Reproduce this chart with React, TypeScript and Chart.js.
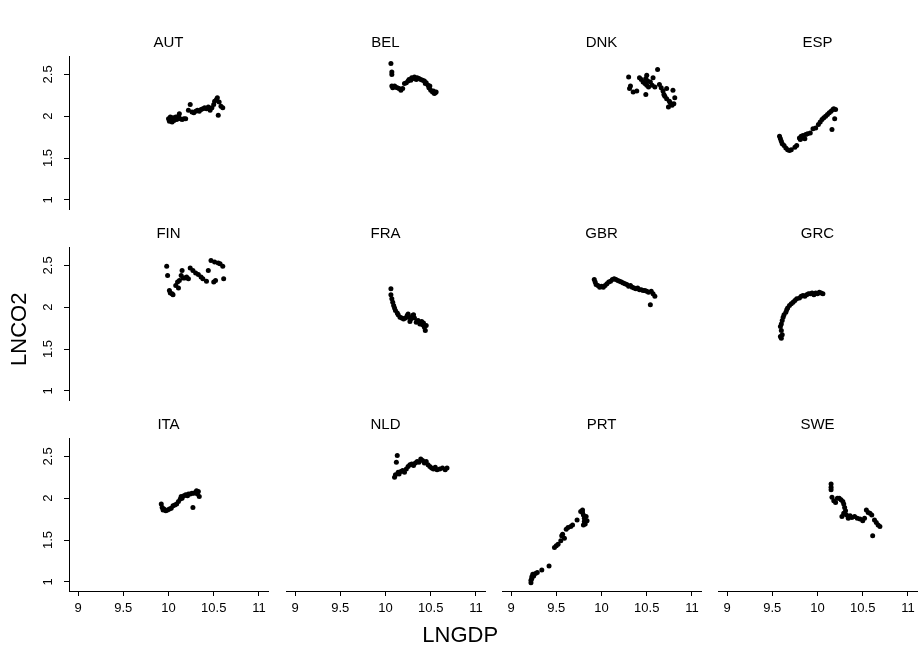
import React, { useEffect, useRef } from 'react';
import { Chart, registerables } from 'chart.js';

Chart.register(...registerables);

const FONT = '"Liberation Sans", Arial, Helvetica, sans-serif';

const PANEL_NAMES = ['AUT', 'BEL', 'DNK', 'ESP', 'FIN', 'FRA', 'GBR', 'GRC', 'ITA', 'NLD', 'PRT', 'SWE'];
const X_TITLE = 'LNGDP';
const Y_TITLE = 'LNCO2';
const X_TICKS = [9, 9.5, 10, 10.5, 11];
const Y_TICKS = [1, 1.5, 2, 2.5];
const X_MIN = 8.9;
const X_MAX = 11.1;
const Y_MIN = 0.89;
const Y_MAX = 2.72;

type P = [number, number];

const AUT: P[] = [[10.00,1.97],[10.01,1.94],[10.02,1.99],[10.03,1.96],[10.04,1.93],[10.05,1.98],[10.06,1.95],[10.07,1.97],[10.08,1.99],[10.09,1.96],[10.10,1.97],[10.11,2.00],[10.12,2.03],[10.13,1.97],[10.15,1.96],[10.17,1.97],[10.19,1.97],[10.22,2.07],[10.24,2.14],[10.26,2.05],[10.28,2.04],[10.30,2.06],[10.32,2.07],[10.34,2.06],[10.36,2.08],[10.38,2.09],[10.40,2.10],[10.42,2.09],[10.44,2.11],[10.46,2.07],[10.48,2.10],[10.50,2.14],[10.51,2.18],[10.53,2.20],[10.54,2.22],[10.55,2.01],[10.56,2.17],[10.58,2.12],[10.60,2.10]];
const BEL: P[] = [[10.06,2.63],[10.07,2.53],[10.07,2.50],[10.07,2.36],[10.08,2.34],[10.10,2.36],[10.11,2.35],[10.13,2.34],[10.15,2.33],[10.17,2.31],[10.19,2.33],[10.21,2.39],[10.23,2.40],[10.25,2.42],[10.26,2.44],[10.28,2.43],[10.29,2.46],[10.31,2.45],[10.32,2.47],[10.34,2.44],[10.35,2.46],[10.37,2.45],[10.39,2.44],[10.41,2.43],[10.43,2.42],[10.44,2.39],[10.45,2.40],[10.47,2.37],[10.48,2.34],[10.49,2.36],[10.50,2.31],[10.52,2.29],[10.53,2.30],[10.54,2.27],[10.55,2.28],[10.56,2.29]];
const DNK: P[] = [[10.30,2.47],[10.31,2.33],[10.32,2.36],[10.35,2.29],[10.39,2.30],[10.42,2.46],[10.44,2.44],[10.46,2.41],[10.48,2.39],[10.49,2.45],[10.50,2.49],[10.50,2.37],[10.51,2.42],[10.49,2.26],[10.52,2.35],[10.54,2.41],[10.56,2.37],[10.57,2.46],[10.59,2.35],[10.62,2.56],[10.64,2.38],[10.66,2.34],[10.68,2.30],[10.69,2.26],[10.70,2.24],[10.72,2.33],[10.72,2.21],[10.74,2.11],[10.75,2.18],[10.76,2.16],[10.78,2.13],[10.79,2.31],[10.80,2.15],[10.81,2.22]];
const ESP: P[] = [[9.58,1.76],[9.59,1.73],[9.60,1.70],[9.61,1.67],[9.63,1.65],[9.65,1.62],[9.67,1.60],[9.69,1.59],[9.71,1.60],[9.75,1.63],[9.77,1.65],[9.80,1.74],[9.81,1.72],[9.82,1.76],[9.83,1.74],[9.84,1.77],[9.86,1.73],[9.87,1.78],[9.89,1.79],[9.92,1.80],[9.95,1.85],[9.98,1.86],[10.01,1.90],[10.03,1.93],[10.05,1.96],[10.07,1.98],[10.09,2.00],[10.11,2.02],[10.13,2.04],[10.15,2.06],[10.16,1.84],[10.17,2.08],[10.18,2.09],[10.19,1.97],[10.20,2.08]];
const FIN: P[] = [[9.98,2.49],[9.99,2.38],[10.01,2.20],[10.02,2.17],[10.04,2.16],[10.05,2.15],[10.08,2.26],[10.10,2.30],[10.11,2.23],[10.12,2.32],[10.14,2.38],[10.15,2.44],[10.16,2.35],[10.18,2.35],[10.20,2.36],[10.22,2.34],[10.24,2.47],[10.27,2.44],[10.30,2.41],[10.33,2.39],[10.36,2.36],[10.38,2.34],[10.42,2.31],[10.44,2.44],[10.47,2.56],[10.50,2.30],[10.51,2.54],[10.52,2.32],[10.55,2.53],[10.57,2.52],[10.60,2.49],[10.61,2.34]];
const FRA: P[] = [[10.06,2.22],[10.06,2.15],[10.07,2.10],[10.08,2.06],[10.09,2.02],[10.10,1.99],[10.11,1.96],[10.13,1.93],[10.14,1.91],[10.16,1.88],[10.18,1.87],[10.20,1.86],[10.22,1.87],[10.24,1.90],[10.25,1.92],[10.26,1.88],[10.27,1.83],[10.28,1.86],[10.30,1.90],[10.31,1.91],[10.32,1.87],[10.34,1.82],[10.36,1.84],[10.38,1.80],[10.40,1.83],[10.41,1.79],[10.42,1.81],[10.43,1.76],[10.44,1.72],[10.45,1.78]];
const GBR: P[] = [[9.92,2.33],[9.93,2.30],[9.94,2.27],[9.96,2.26],[9.98,2.24],[10.00,2.25],[10.02,2.24],[10.04,2.26],[10.06,2.28],[10.08,2.30],[10.10,2.31],[10.12,2.33],[10.14,2.34],[10.16,2.33],[10.18,2.32],[10.20,2.31],[10.22,2.30],[10.24,2.29],[10.26,2.28],[10.28,2.27],[10.30,2.25],[10.32,2.26],[10.34,2.24],[10.36,2.23],[10.38,2.22],[10.40,2.23],[10.42,2.21],[10.44,2.21],[10.46,2.20],[10.48,2.20],[10.50,2.19],[10.52,2.18],[10.54,2.03],[10.55,2.19],[10.57,2.16],[10.59,2.13]];
const GRC: P[] = [[9.59,1.65],[9.60,1.63],[9.61,1.67],[9.60,1.72],[9.59,1.77],[9.60,1.80],[9.61,1.84],[9.62,1.88],[9.63,1.91],[9.65,1.94],[9.66,1.97],[9.67,1.99],[9.69,2.02],[9.71,2.04],[9.73,2.06],[9.75,2.08],[9.77,2.10],[9.80,2.11],[9.82,2.13],[9.84,2.14],[9.86,2.13],[9.88,2.15],[9.90,2.16],[9.92,2.16],[9.94,2.17],[9.96,2.15],[9.98,2.17],[10.00,2.16],[10.02,2.18],[10.04,2.17],[10.06,2.16]];
const ITA: P[] = [[9.92,1.93],[9.93,1.89],[9.94,1.86],[9.95,1.87],[9.97,1.85],[9.99,1.86],[10.01,1.87],[10.03,1.88],[10.05,1.91],[10.07,1.92],[10.09,1.93],[10.11,1.96],[10.13,1.99],[10.14,2.02],[10.15,2.00],[10.17,2.03],[10.19,2.04],[10.21,2.03],[10.22,2.05],[10.24,2.05],[10.26,2.06],[10.27,1.89],[10.28,2.06],[10.30,2.07],[10.31,2.09],[10.32,2.05],[10.33,2.08],[10.34,2.02]];
const NLD: P[] = [[10.10,2.25],[10.11,2.28],[10.12,2.43],[10.13,2.51],[10.14,2.31],[10.15,2.29],[10.17,2.32],[10.19,2.33],[10.21,2.31],[10.23,2.35],[10.25,2.38],[10.27,2.40],[10.29,2.41],[10.31,2.39],[10.33,2.42],[10.35,2.44],[10.37,2.43],[10.39,2.47],[10.41,2.45],[10.43,2.42],[10.45,2.44],[10.47,2.40],[10.49,2.38],[10.51,2.36],[10.53,2.35],[10.55,2.37],[10.57,2.34],[10.60,2.35],[10.63,2.36],[10.66,2.34],[10.68,2.36]];
const PRT: P[] = [[9.22,1.02],[9.22,0.99],[9.23,1.04],[9.23,1.06],[9.24,1.09],[9.25,1.07],[9.27,1.10],[9.29,1.11],[9.34,1.14],[9.42,1.19],[9.48,1.41],[9.50,1.43],[9.52,1.45],[9.55,1.49],[9.56,1.55],[9.57,1.57],[9.59,1.52],[9.61,1.63],[9.63,1.65],[9.66,1.66],[9.68,1.68],[9.73,1.74],[9.77,1.84],[9.79,1.86],[9.80,1.80],[9.81,1.76],[9.81,1.72],[9.82,1.69],[9.83,1.78],[9.84,1.73],[9.79,1.83],[9.80,1.68]];
const SWE: P[] = [[10.15,2.17],[10.15,2.13],[10.15,2.10],[10.16,2.01],[10.18,1.97],[10.20,1.95],[10.22,2.00],[10.24,2.00],[10.26,1.98],[10.28,1.96],[10.29,1.93],[10.30,1.89],[10.31,1.85],[10.29,1.82],[10.27,1.78],[10.32,1.80],[10.34,1.76],[10.36,1.79],[10.38,1.77],[10.41,1.78],[10.44,1.76],[10.47,1.75],[10.50,1.73],[10.52,1.76],[10.54,1.86],[10.56,1.83],[10.58,1.82],[10.60,1.80],[10.61,1.55],[10.63,1.74],[10.65,1.71],[10.67,1.68],[10.69,1.66]];

const PANEL_DATA: P[][] = [AUT, BEL, DNK, ESP, FIN, FRA, GBR, GRC, ITA, NLD, PRT, SWE];

// layout geometry (pixels)
const COL_LEFT = [69, 286, 502, 718];
const ROW_TOP = [56, 247, 438];
const PW = 199;
const PH = 153;
const PAD = 16;
const TITLE_H = 22;
const YW = 50;
const XH = 32;

function Panel({ index }: { index: number }) {
  const ref = useRef<HTMLCanvasElement | null>(null);
  const row = Math.floor(index / 4);
  const col = index % 4;
  const showY = col === 0;
  const showX = row === 2;
  const left = COL_LEFT[col] - PAD - (showY ? YW : 0);
  const top = ROW_TOP[row] - TITLE_H;
  const width = PAD + (showY ? YW : 0) + PW + PAD;
  const height = TITLE_H + PH + (showX ? XH : 0) + PAD;

  useEffect(() => {
    if (!ref.current) return;
    const chart = new Chart(ref.current, {
      type: 'scatter',
      data: {
        datasets: [
          {
            data: PANEL_DATA[index].map(([x, y]) => ({ x, y })),
            backgroundColor: '#000',
            borderColor: '#000',
            borderWidth: 0,
            pointRadius: 2.5,
            pointHoverRadius: 2.5,
          },
        ],
      },
      options: {
        responsive: false,
        animation: false,
        events: [],
        layout: { padding: { left: PAD, right: PAD, top: 0, bottom: PAD } },
        plugins: {
          legend: { display: false },
          tooltip: { enabled: false },
          title: {
            display: true,
            text: PANEL_NAMES[index],
            fullSize: false,
            color: '#000',
            font: { family: FONT, size: 15, weight: 'normal' },
            padding: { top: 0, bottom: 4 },
          },
        },
        scales: {
          x: {
            type: 'linear',
            min: X_MIN,
            max: X_MAX,
            display: showX,
            afterBuildTicks: (s: any) => {
              s.ticks = X_TICKS.map((v) => ({ value: v }));
            },
            afterFit: (s: any) => {
              s.height = showX ? XH : 0;
            },
            grid: { display: true, drawOnChartArea: false, drawTicks: true, tickLength: 5, color: '#000', lineWidth: 1 },
            border: { display: true, color: '#000', width: 1 },
            ticks: {
              color: '#000',
              font: { family: FONT, size: 13 },
              padding: 5,
              autoSkip: false,
              maxRotation: 0,
              minRotation: 0,
              callback: (v: any) => String(v),
            },
          },
          y: {
            type: 'linear',
            min: Y_MIN,
            max: Y_MAX,
            display: showY,
            afterBuildTicks: (s: any) => {
              s.ticks = Y_TICKS.map((v) => ({ value: v }));
            },
            afterFit: (s: any) => {
              s.width = showY ? YW : 0;
            },
            grid: { display: true, drawOnChartArea: false, drawTicks: true, tickLength: 5, color: '#000', lineWidth: 1 },
            border: { display: true, color: '#000', width: 1 },
            ticks: {
              color: '#000',
              font: { family: FONT, size: 13 },
              padding: 7,
              autoSkip: false,
              minRotation: 90,
              maxRotation: 90,
              crossAlign: 'center',
              callback: (v: any) => String(v),
            },
          },
        },
      },
    } as any);
    return () => chart.destroy();
  }, [index]);

  return (
    <canvas
      ref={ref}
      width={width}
      height={height}
      style={{ position: 'absolute', left, top, width, height }}
    />
  );
}

function AxisTitles() {
  const ref = useRef<HTMLCanvasElement | null>(null);
  useEffect(() => {
    if (!ref.current) return;
    const chart = new Chart(ref.current, {
      type: 'scatter',
      data: { datasets: [] },
      options: {
        responsive: false,
        animation: false,
        events: [],
        layout: { padding: { left: 7, right: 33, top: 36, bottom: 18 } },
        plugins: { legend: { display: false }, tooltip: { enabled: false } },
        scales: {
          x: {
            type: 'linear',
            min: 0,
            max: 1,
            grid: { display: false, drawTicks: false },
            border: { display: false },
            ticks: { display: false },
            title: { display: true, text: X_TITLE, color: '#000', font: { family: FONT, size: 22 }, padding: 0 },
          },
          y: {
            type: 'linear',
            min: 0,
            max: 1,
            grid: { display: false, drawTicks: false },
            border: { display: false },
            ticks: { display: false },
            title: { display: true, text: Y_TITLE, color: '#000', font: { family: FONT, size: 22 }, padding: 0 },
          },
        },
      },
    } as any);
    return () => chart.destroy();
  }, []);
  return <canvas ref={ref} width={920} height={667} style={{ position: 'absolute', left: 0, top: 0, width: 920, height: 667 }} />;
}

export default function App() {
  return (
    <div style={{ position: 'fixed', left: 0, top: 0, width: 920, height: 667, background: '#fff', overflow: 'hidden' }}>
      <AxisTitles />
      {PANEL_NAMES.map((_, i) => (
        <Panel key={i} index={i} />
      ))}
    </div>
  );
}
